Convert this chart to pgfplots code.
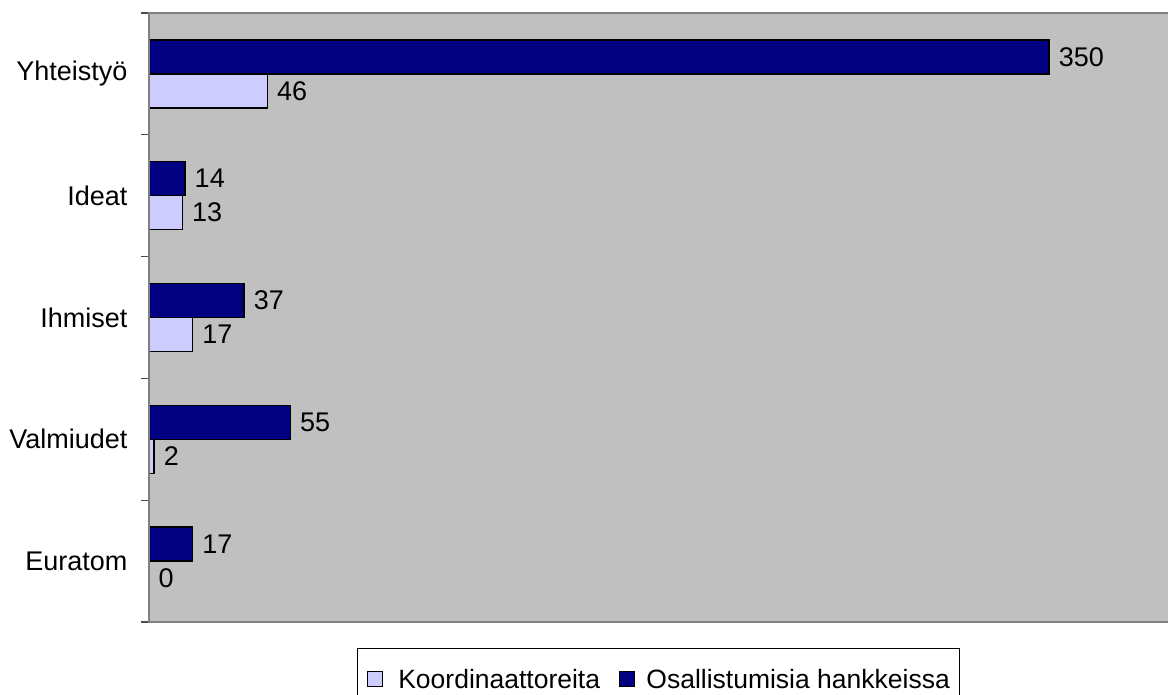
\documentclass[border=0pt]{standalone}
\usepackage{pgfplots}
\pgfplotsset{compat=1.18}
\usepackage{fontspec}
\setmainfont{Liberation Sans}
\definecolor{navy}{HTML}{000080}
\definecolor{lav}{HTML}{CCCCFF}
\definecolor{bg}{HTML}{C0C0C0}
\definecolor{frame}{HTML}{808080}
\begin{document}
\begin{tikzpicture}[x=1pt,y=1pt]
\path[use as bounding box] (0,0) rectangle (1168,695);
\begin{axis}[
  at={(149pt,73pt)}, anchor=south west,
  scale only axis, width=1022pt, height=609pt,
  xbar, bar width=34pt,
  xmin=0, xmax=397.45,
  ymin=-0.5, ymax=4.5,
  xtick=\empty,
  ytick={0,1,2,3,4},
  yticklabels={Euratom,Valmiudet,Ihmiset,Ideat,Yhteistyö},
  major tick length=0pt,
  minor ytick={-0.5,0.5,1.5,2.5,3.5,4.5},
  minor tick length=8pt,
  tick align=outside,
  tick pos=left,
  minor tick style={black!70, line width=1.2pt},
  yticklabel style={xshift=-18pt},
  axis background/.style={fill=bg},
  axis line style={frame, line width=2pt},
  axis on top,
  font=\fontsize{27}{31}\selectfont,
  /pgf/number format/assume math mode=true,
  nodes near coords,
  nodes near coords style={font=\fontsize{27}{31}\selectfont, black, inner sep=9pt},
  legend columns=2,
  legend style={at={(0,0)}, anchor=north west, xshift=208pt, yshift=-27pt,
    draw=black, line width=1pt, fill=white, outer sep=0pt,
    font=\fontsize{26.5}{31}\selectfont, inner xsep=10pt, inner ysep=20pt,
    nodes={inner sep=0pt},
    /tikz/column 1/.style={column sep=15pt},
    /tikz/column 2/.style={column sep=19pt},
    /tikz/column 3/.style={column sep=11pt}},
  legend image code/.code={\draw[#1, draw=black, line width=1.3pt] (0pt,-7.5pt) rectangle (15pt,7.5pt);},
  clip=false,
]
\addplot[fill=lav, draw=black, line width=1.5pt, bar shift=-17pt] coordinates {(0,0) (2,1) (17,2) (13,3) (46,4)};
\addlegendentry{Koordinaattoreita}
\addplot[fill=navy, draw=black, line width=1.5pt, bar shift=17pt] coordinates {(17,0) (55,1) (37,2) (14,3) (350,4)};
\addlegendentry{Osallistumisia hankkeissa}
\end{axis}
\end{tikzpicture}
\end{document}
